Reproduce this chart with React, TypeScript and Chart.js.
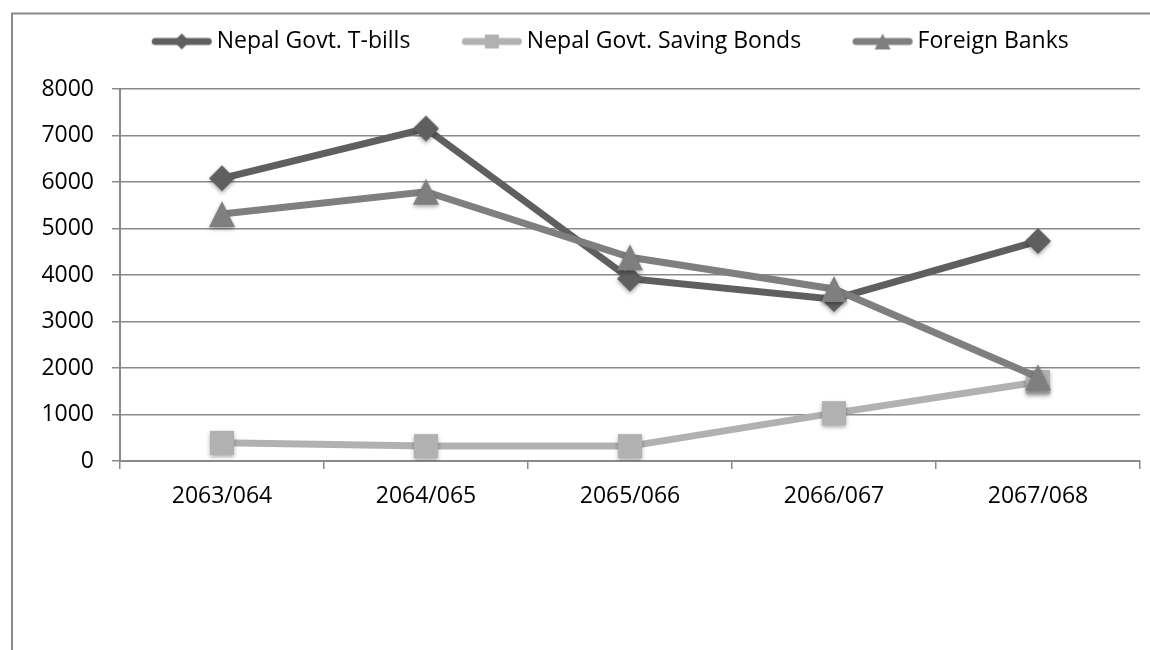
import React, { useEffect, useRef } from "react";
import { Chart, registerables } from "chart.js";

Chart.register(...registerables);

const categories = ["2063/064", "2064/065", "2065/066", "2066/067", "2067/068"];
const tBills = [6080, 7150, 3920, 3480, 4730];
const savingBonds = [390, 320, 320, 1030, 1700];
const foreignBanks = [5310, 5790, 4380, 3700, 1800];
const seriesNames = ["Nepal Govt. T-bills", "Nepal Govt. Saving Bonds", "Foreign Banks"];
const yTicks = [0, 1000, 2000, 3000, 4000, 5000, 6000, 7000, 8000];

const COLORS = ["#5f5f5f", "#b1b1b1", "#7f7f7f"];
const GRID = "#8a8a8a";
const FONT = "'Open Sans', 'DejaVu Sans', sans-serif";

type Shape = "diamond" | "square" | "triangle";

function shapePath(ctx: CanvasRenderingContext2D, shape: Shape, cx: number, cy: number, s: number) {
  ctx.beginPath();
  if (shape === "diamond") {
    ctx.moveTo(cx, cy - s);
    ctx.lineTo(cx + s, cy);
    ctx.lineTo(cx, cy + s);
    ctx.lineTo(cx - s, cy);
  } else if (shape === "square") {
    ctx.rect(cx - s, cy - s, 2 * s, 2 * s);
  } else {
    const w = s * 1.0;
    ctx.moveTo(cx, cy - s);
    ctx.lineTo(cx + w, cy + s);
    ctx.lineTo(cx - w, cy + s);
  }
  ctx.closePath();
}

function makeMarker(shape: Shape, color: string, s: number, shadow: boolean) {
  const pad = 6;
  const size = Math.ceil(2 * s + 2 * pad);
  const c = document.createElement("canvas");
  c.width = size;
  c.height = size;
  const ctx = c.getContext("2d")!;
  if (shadow) {
    ctx.shadowColor = "rgba(0,0,0,0.35)";
    ctx.shadowBlur = 4;
    ctx.shadowOffsetY = 2;
  }
  ctx.fillStyle = color;
  shapePath(ctx, shape, size / 2, size / 2, s);
  ctx.fill();
  return c;
}

function makeLegendIcon(shape: Shape, color: string, s: number) {
  const c = document.createElement("canvas");
  c.width = 62;
  c.height = 24;
  const ctx = c.getContext("2d")!;
  ctx.strokeStyle = color;
  ctx.lineWidth = 7;
  ctx.lineCap = "round";
  ctx.beginPath();
  ctx.moveTo(4.5, 12);
  ctx.lineTo(57.5, 12);
  ctx.stroke();
  ctx.fillStyle = color;
  shapePath(ctx, shape, 31, 12, s);
  ctx.fill();
  return c;
}

export default function App() {
  const ref = useRef<HTMLCanvasElement | null>(null);

  useEffect(() => {
    if (!ref.current) return;
    const shapes: Shape[] = ["diamond", "square", "triangle"];
    const sizes = [13, 12, 13];
    const markers = shapes.map((sh, i) => makeMarker(sh, COLORS[i], sizes[i], true));
    const legendIcons = shapes.map((sh, i) => makeLegendIcon(sh, COLORS[i], sh === "square" ? 7 : 8));

    const frame = {
      id: "frame",
      beforeDraw(chart: any) {
        const ctx = chart.ctx;
        ctx.save();
        ctx.strokeStyle = "#8a8a8a";
        ctx.lineWidth = 2;
        ctx.beginPath();
        ctx.moveTo(12, 660);
        ctx.lineTo(12, 13.5);
        ctx.lineTo(1170, 13.5);
        ctx.stroke();
        ctx.restore();
      },
      beforeLayout(chart: any) {
        const lg = chart.legend;
        if (lg && !lg.__patched) {
          const orig = lg.fit.bind(lg);
          lg.fit = function () {
            orig();
            this.height = 117;
          };
          lg.__patched = true;
        }
      },
      afterLayout(chart: any) {
        const lg = chart.legend;
        if (lg) {
          lg.left = 87;
          lg.right = 1140;
        }
      },
    };

    const dataSets = [tBills, savingBonds, foreignBanks];
    const chart = new Chart(ref.current, {
      type: "line",
      data: {
        labels: categories,
        datasets: dataSets.map((d, i) => ({
          label: seriesNames[i],
          data: d,
          borderColor: COLORS[i],
          backgroundColor: COLORS[i],
          borderWidth: 7,
          pointStyle: markers[i] as any,
          pointRadius: 12,
          pointHoverRadius: 12,
          tension: 0,
          fill: false,
          order: 3 - i,
        })),
      },
      options: {
        responsive: false,
        animation: false,
        events: [],
        layout: { autoPadding: false, padding: { left: 20, right: 10, top: -28, bottom: 0 } },
        plugins: {
          tooltip: { enabled: false },
          legend: {
            display: true,
            position: "top",
            labels: {
              usePointStyle: true,
              pointStyleWidth: 47,
              padding: 58,
              color: "#000",
              font: { family: FONT, size: 23 },
              generateLabels: (ch: any) => {
                const base = Chart.defaults.plugins.legend.labels.generateLabels(ch);
                return base
                  .map((it: any) => ({ ...it, pointStyle: legendIcons[it.datasetIndex] }))
                  .sort((a: any, b: any) => a.datasetIndex - b.datasetIndex);
              },
              sort: (a: any, b: any) => a.datasetIndex - b.datasetIndex,
            },
          },
        },
        scales: {
          x: {
            type: "category",
            offset: true,
            grid: { display: true, offset: true, drawOnChartArea: false, drawTicks: true, tickLength: 8, color: GRID, lineWidth: 1.5 },
            border: { display: true, color: GRID, width: 2 },
            ticks: { color: "#000", font: { family: FONT, size: 23 }, padding: 14, maxRotation: 0, autoSkip: false },
            afterFit: (scale: any) => {
              scale.height = 189;
            },
          },
          y: {
            min: yTicks[0],
            max: yTicks[yTicks.length - 1],
            afterBuildTicks: (scale: any) => {
              scale.ticks = yTicks.map((v) => ({ value: v }));
            },
            grid: { color: GRID, lineWidth: 1.5, tickLength: 8, drawTicks: true },
            border: { display: true, color: GRID, width: 2 },
            ticks: {
              color: "#000",
              font: { family: FONT, size: 23 },
              padding: 18,
              callback: (v: any) => String(v),
            },
            afterFit: (scale: any) => {
              scale.width = 100;
            },
          },
        },
      },
      plugins: [frame],
    } as any);

    return () => chart.destroy();
  }, []);

  return (
    <div style={{ position: "fixed", left: 0, top: 0, width: 1150, height: 650, background: "#fff" }}>
      <canvas ref={ref} width={1150} height={650} style={{ width: 1150, height: 650, display: "block" }} />
    </div>
  );
}
